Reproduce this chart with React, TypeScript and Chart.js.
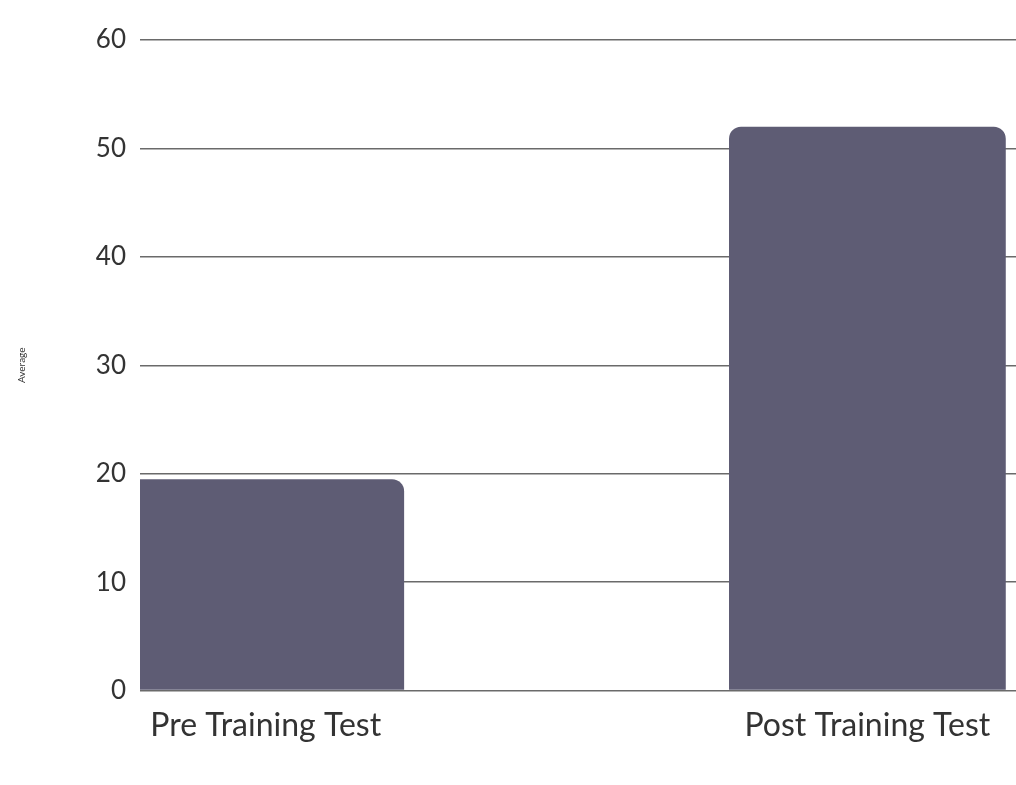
import React, { useEffect, useRef } from "react";
import { Chart, registerables } from "chart.js";

Chart.register(...registerables);

const categories = ["Pre Training Test", "Post Training Test"];
const averages = [19.5, 52];
const yTicks = [0, 10, 20, 30, 40, 50, 60];

export default function App() {
  const ref = useRef<HTMLCanvasElement | null>(null);

  useEffect(() => {
    document.body.style.margin = "0";
    document.body.style.background = "#ffffff";
    const ctx = ref.current!.getContext("2d")!;
    const chart = new Chart(ctx, {
      type: "bar",
      data: {
        datasets: [
          {
            label: "Average",
            data: categories.map((c, i) => ({ x: i, y: averages[i] })),
            backgroundColor: "#5e5c74",
            borderRadius: { topLeft: 12, topRight: 12, bottomLeft: 0, bottomRight: 0 },
            borderSkipped: "bottom",
            barPercentage: 0.46,
            categoryPercentage: 1,
          },
        ],
      },
      options: {
        animation: false,
        responsive: false,
        layout: { padding: { top: 40, right: 0, bottom: 32, left: 12 } },
        plugins: { legend: { display: false }, tooltip: { enabled: false } },
        scales: {
          x: {
            type: "linear",
            offset: false,
            min: -0.209,
            max: 1.247,
            afterBuildTicks: (scale: any) => {
              scale.ticks = categories.map((_, i) => ({ value: i }));
            },
            ticks: {
              callback: (v: any) => categories[v as number] ?? "",
              font: { family: "Lato", size: 32 },
              color: "#333333",
              padding: 8,
              maxRotation: 0,
            },
            grid: { display: false },
            border: { display: false },
          },
          y: {
            min: 0,
            max: 60,
            afterBuildTicks: (scale: any) => {
              scale.ticks = yTicks.map((v) => ({ value: v }));
            },
            afterFit: (scale: any) => {
              scale.width = 128;
            },
            ticks: {
              font: { family: "Lato", size: 26 },
              color: "#333333",
              padding: 14,
            },
            grid: { color: "#6a6a6a", lineWidth: 1.5, drawTicks: false },
            border: { display: false },
            title: {
              display: true,
              text: "Average",
              font: { family: "Lato", size: 10 },
              color: "#333333",
            },
          },
        },
      },
    });
    return () => chart.destroy();
  }, []);

  return <canvas ref={ref} width={1016} height={785} style={{ display: "block" }} />;
}
